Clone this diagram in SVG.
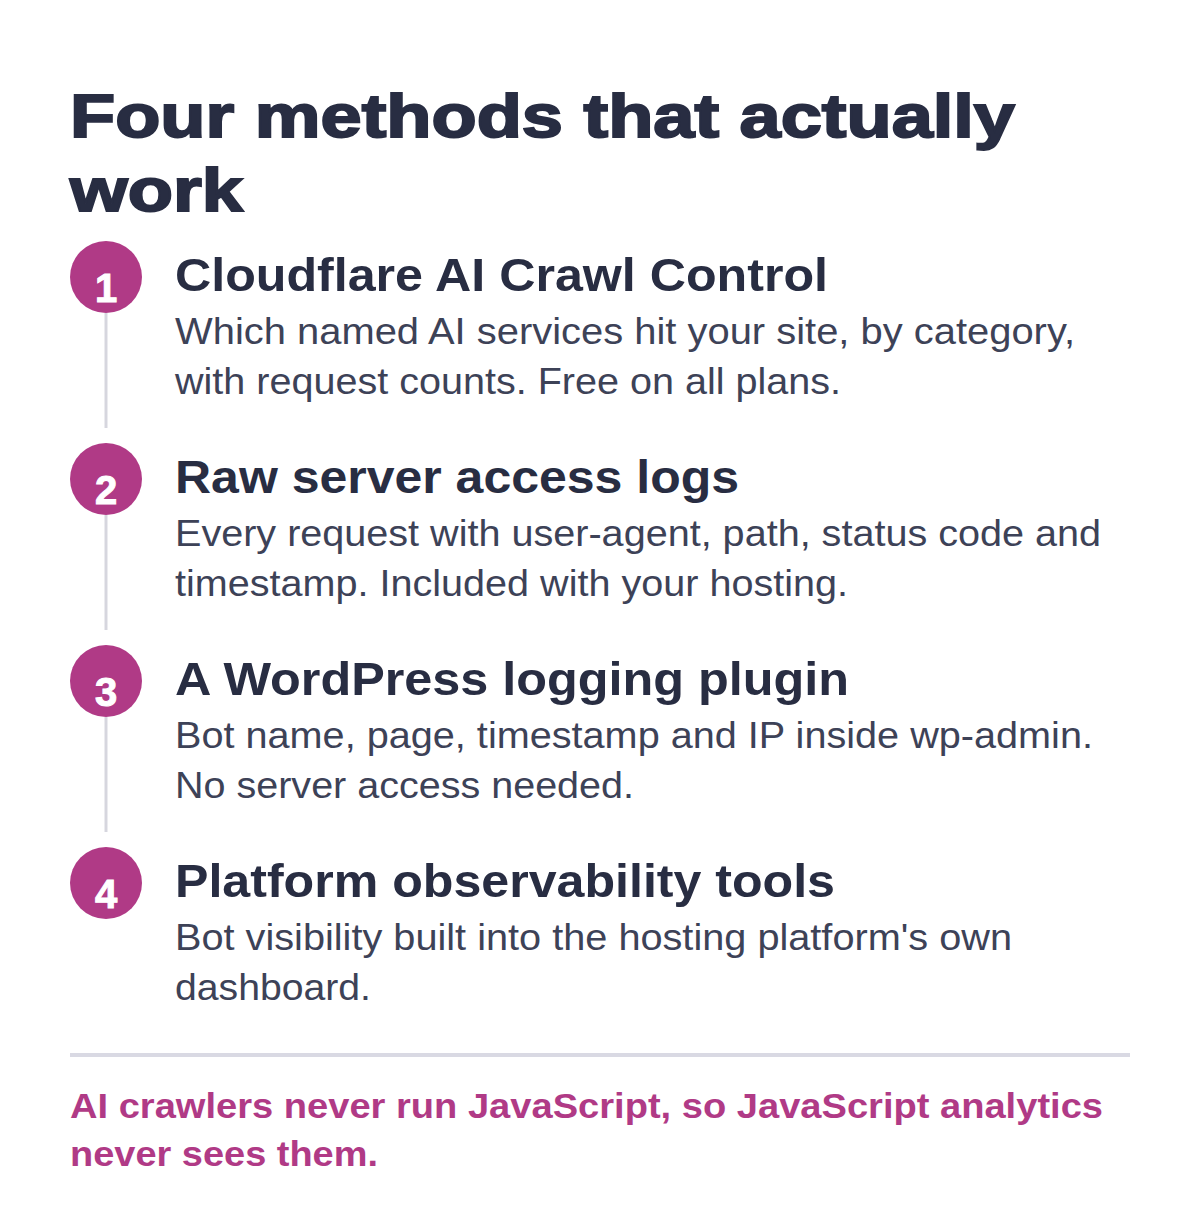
<svg xmlns="http://www.w3.org/2000/svg" width="1200" height="1220" viewBox="0 0 1200 1220">
<style>
text{font-family:"Liberation Sans",Arial,sans-serif}
.t{font-weight:900;font-size:62px;fill:#282d42;stroke:#282d42;stroke-width:2}
.c{fill:#b03a86}
.n{font-weight:bold;font-size:40px;fill:#fff;text-anchor:middle;stroke:#fff;stroke-width:1}
.h{font-weight:bold;font-size:46px;fill:#282d42}
.b{font-size:36px;fill:#3d4257}
.f{font-weight:bold;font-size:35px;fill:#b03a86}
.l{stroke:#d6d6de;stroke-width:3}
</style>
<rect width="1200" height="1220" fill="#fff"/>
<text class="t" x="70" y="137" textLength="945" lengthAdjust="spacingAndGlyphs">Four methods that actually</text>
<text class="t" x="70" y="211" textLength="173" lengthAdjust="spacingAndGlyphs">work</text>
<g id="connectors">
<line class="l" x1="106" y1="313" x2="106" y2="428"/>
<line class="l" x1="106" y1="515" x2="106" y2="630"/>
<line class="l" x1="106" y1="717" x2="106" y2="832"/>
</g>
<g id="step1"><circle class="c" cx="106" cy="277" r="36"/><text class="n" x="106" y="302">1</text>
<text class="h" x="175" y="291" textLength="653" lengthAdjust="spacingAndGlyphs">Cloudflare AI Crawl Control</text>
<text class="b" x="175" y="344" textLength="900" lengthAdjust="spacingAndGlyphs">Which named AI services hit your site, by category,</text>
<text class="b" x="175" y="394" textLength="666" lengthAdjust="spacingAndGlyphs">with request counts. Free on all plans.</text></g>
<g id="step2"><circle class="c" cx="106" cy="479" r="36"/><text class="n" x="106" y="504">2</text>
<text class="h" x="175" y="493" textLength="564" lengthAdjust="spacingAndGlyphs">Raw server access logs</text>
<text class="b" x="175" y="546" textLength="926" lengthAdjust="spacingAndGlyphs">Every request with user-agent, path, status code and</text>
<text class="b" x="175" y="596" textLength="673" lengthAdjust="spacingAndGlyphs">timestamp. Included with your hosting.</text></g>
<g id="step3"><circle class="c" cx="106" cy="681" r="36"/><text class="n" x="106" y="706">3</text>
<text class="h" x="175" y="695" textLength="674" lengthAdjust="spacingAndGlyphs">A WordPress logging plugin</text>
<text class="b" x="175" y="748" textLength="918" lengthAdjust="spacingAndGlyphs">Bot name, page, timestamp and IP inside wp-admin.</text>
<text class="b" x="175" y="798" textLength="459" lengthAdjust="spacingAndGlyphs">No server access needed.</text></g>
<g id="step4"><circle class="c" cx="106" cy="883" r="36"/><text class="n" x="106" y="908">4</text>
<text class="h" x="175" y="897" textLength="660" lengthAdjust="spacingAndGlyphs">Platform observability tools</text>
<text class="b" x="175" y="950" textLength="837" lengthAdjust="spacingAndGlyphs">Bot visibility built into the hosting platform's own</text>
<text class="b" x="175" y="1000" textLength="196" lengthAdjust="spacingAndGlyphs">dashboard.</text></g>
<line x1="70" y1="1055" x2="1130" y2="1055" stroke="#d9d9e3" stroke-width="4"/>
<text class="f" x="70" y="1118" textLength="1033" lengthAdjust="spacingAndGlyphs">AI crawlers never run JavaScript, so JavaScript analytics</text>
<text class="f" x="70" y="1166" textLength="308" lengthAdjust="spacingAndGlyphs">never sees them.</text>
</svg>
